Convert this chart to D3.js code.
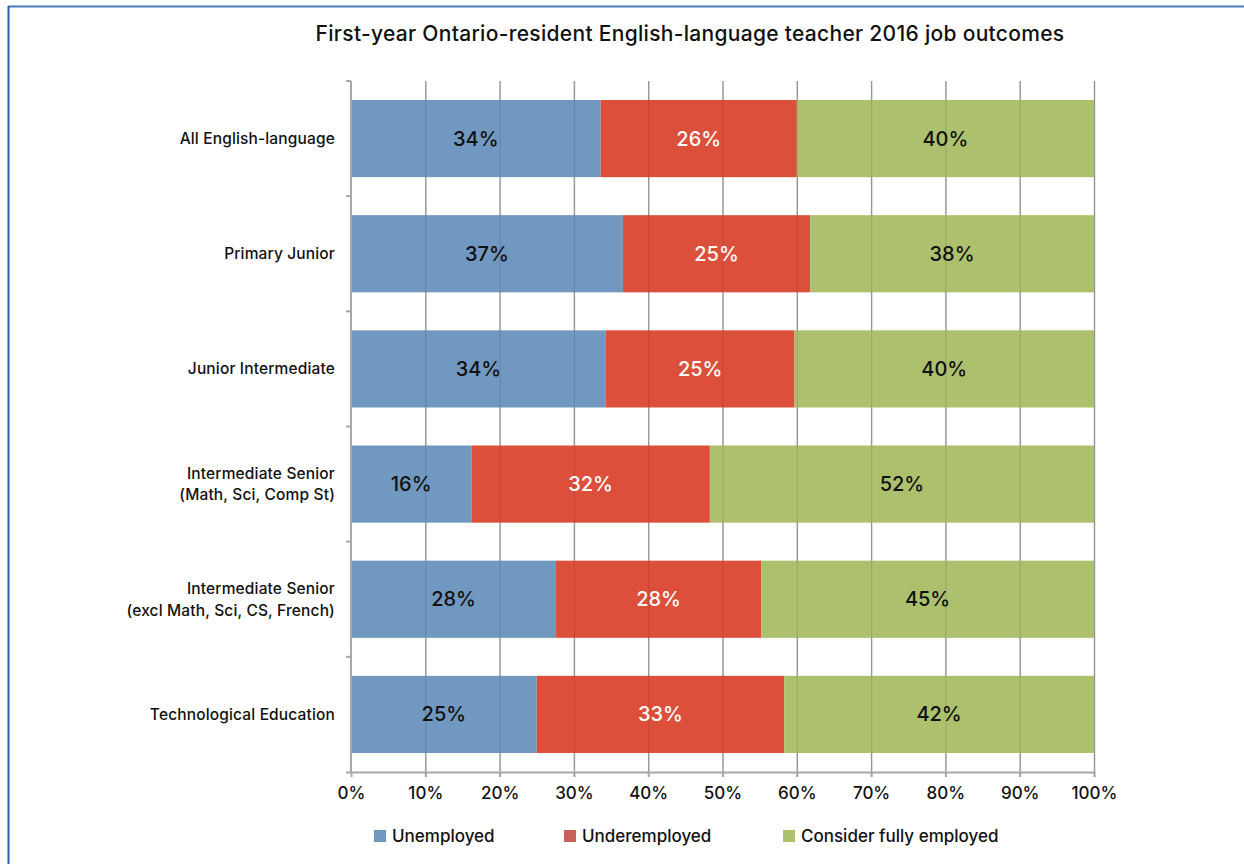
<!DOCTYPE html>
<html>
<head>
<meta charset="utf-8">
<script src="https://cdn.jsdelivr.net/npm/d3@7"></script>
<style>
  body { margin: 0; background: #fff; }
  text { font-family: Inter, "Open Sans", sans-serif; fill: #111; }
</style>
</head>
<body>
<div id="chart"></div>
<script>
// categories (top to bottom)
var categories = [
    "All English-language",
    "Primary Junior",
    "Junior Intermediate",
    "Intermediate Senior\n(Math, Sci, Comp St)",
    "Intermediate Senior\n(excl Math, Sci, CS, French)",
    "Technological Education"
];
// series values, percent
var unemployed    = [33.6, 36.6, 34.3, 16.2, 27.6, 25.0];
var underemployed = [26.4, 25.2, 25.4, 32.1, 27.6, 33.3];
var fullyEmployed = [40.0, 38.2, 40.3, 51.7, 44.8, 41.7];
var seriesNames = ["Unemployed", "Underemployed", "Consider fully employed"];
var tickValues = [0, 10, 20, 30, 40, 50, 60, 70, 80, 90, 100];

var colors = ["#7198c0", "#dc4f3b", "#acc06e"];
var legendColors = ["#7198c0", "#c6625a", "#acc06e"];
var labelColors = ["#111", "#fff", "#111"];

var W = 1244, H = 864;
var margin = {top: 81, left: 351, right: 150, bottom: 92};
var width = W - margin.left - margin.right,
    height = H - margin.top - margin.bottom;

var svg = d3.select("#chart").append("svg")
    .attr("width", W).attr("height", H);

// frame (top + left edges only)
svg.append("line").attr("x1", 8).attr("x2", W).attr("y1", 6.5).attr("y2", 6.5)
    .style("stroke", "#4a78b5").style("stroke-width", 2);
svg.append("line").attr("x1", 8.5).attr("x2", 8.5).attr("y1", 6).attr("y2", H)
    .style("stroke", "#2f62a8").style("stroke-width", 2);

// title
svg.append("text")
    .attr("x", 690).attr("y", 41)
    .style("text-anchor", "middle")
    .style("font-size", "21px")
    .style("font-weight", 500)
    .style("letter-spacing", "0.3px")
    .text("First-year Ontario-resident English-language teacher 2016 job outcomes");

var g = svg.append("g")
    .attr("transform", "translate(" + margin.left + "," + margin.top + ")");

var x = d3.scaleLinear().domain([0, 100]).range([0, width]);
var y = d3.scaleBand().domain(categories).range([0, height]).paddingInner(0.33).paddingOuter(0.165);

// stacked data
var rows = categories.map(function (c, i) {
    return {cat: c, vals: [unemployed[i], underemployed[i], fullyEmployed[i]]};
});
var segs = [];
rows.forEach(function (r) {
    var acc = 0;
    r.vals.forEach(function (v, k) {
        segs.push({cat: r.cat, k: k, x0: acc, x1: acc + v, v: v});
        acc += v;
    });
});

// gridlines under the bars
g.append("g")
    .call(d3.axisBottom(x).tickValues(tickValues.slice(1)).tickSize(height + 5).tickFormat(""))
    .call(function (s) { s.select(".domain").remove(); })
    .selectAll("line")
    .style("stroke", "#a8a8a8").style("stroke-width", 1.5);

g.append("g").selectAll("rect")
    .data(segs).enter().append("rect")
    .attr("x", function (d) { return x(d.x0); })
    .attr("width", function (d) { return x(d.x1) - x(d.x0); })
    .attr("y", function (d) { return y(d.cat); })
    .attr("height", y.bandwidth())
    .style("fill", function (d) { return colors[d.k]; });

// faint gridlines showing through the bars
g.append("g")
    .call(d3.axisBottom(x).tickValues(tickValues.slice(1)).tickSize(height).tickFormat(""))
    .call(function (s) { s.select(".domain").remove(); })
    .selectAll("line")
    .style("stroke", "#000").style("stroke-opacity", 0.12);

// bar labels
g.append("g").selectAll("text")
    .data(segs).enter().append("text")
    .attr("x", function (d) { return x((d.x0 + d.x1) / 2); })
    .attr("y", function (d) { return y(d.cat) + y.bandwidth() / 2; })
    .attr("dy", "0.35em")
    .style("text-anchor", "middle")
    .style("font-size", "20px")
    .style("font-weight", 500)
    .style("fill", function (d) { return labelColors[d.k]; })
    .text(function (d) { return Math.round(d.v) + "%"; });

// x axis
var xAxis = g.append("g")
    .attr("transform", "translate(0," + height + ")")
    .call(d3.axisBottom(x).tickValues(tickValues).tickSize(5).tickPadding(10)
        .tickFormat(function (d) { return d + "%"; }));
xAxis.select(".domain").attr("d", "M-5,0.5H" + width);
xAxis.selectAll("path, line").style("stroke", "#a8a8a8").style("stroke-width", 2);
xAxis.selectAll("text").attr("font-size", null).attr("font-family", null)
    .style("font-size", "17px").style("font-weight", 500)
    .style("fill", "#111");

// y axis line + boundary ticks
g.append("line").attr("x1", 0).attr("x2", 0).attr("y1", 0).attr("y2", height)
    .style("stroke", "#a8a8a8").style("stroke-width", 2);
var bounds = d3.range(categories.length).map(function (i) { return i * y.step(); });
g.append("g").selectAll("line").data(bounds).enter().append("line")
    .attr("x1", -5).attr("x2", 0)
    .attr("y1", function (d) { return d; }).attr("y2", function (d) { return d; })
    .style("stroke", "#a8a8a8").style("stroke-width", 2);

// category labels
var cl = g.append("g").selectAll("text")
    .data(categories).enter().append("text")
    .attr("x", -16)
    .attr("y", function (d) { return y(d) + y.bandwidth() / 2; })
    .style("text-anchor", "end")
    .style("font-size", "15.5px")
    .style("font-weight", 500)
    .style("letter-spacing", "0.15px");
cl.each(function (d) {
    var lines = d.split("\n");
    var t = d3.select(this);
    lines.forEach(function (ln, i) {
        t.append("tspan")
            .attr("x", -16)
            .attr("dy", i === 0 ? (0.35 - (lines.length - 1) * 0.7) + "em" : "1.4em")
            .text(ln);
    });
});

// legend
var legendX = [374, 564, 783];
var lg = svg.append("g").selectAll("g")
    .data(seriesNames).enter().append("g")
    .attr("transform", function (d, i) { return "translate(" + legendX[i] + ",830)"; });
lg.append("rect").attr("width", 12).attr("height", 12)
    .style("fill", function (d, i) { return legendColors[i]; });
lg.append("text").attr("x", 18).attr("y", 6).attr("dy", "0.35em")
    .style("font-size", "17px").style("font-weight", 500)
    .text(function (d) { return d; });
</script>
</body>
</html>
